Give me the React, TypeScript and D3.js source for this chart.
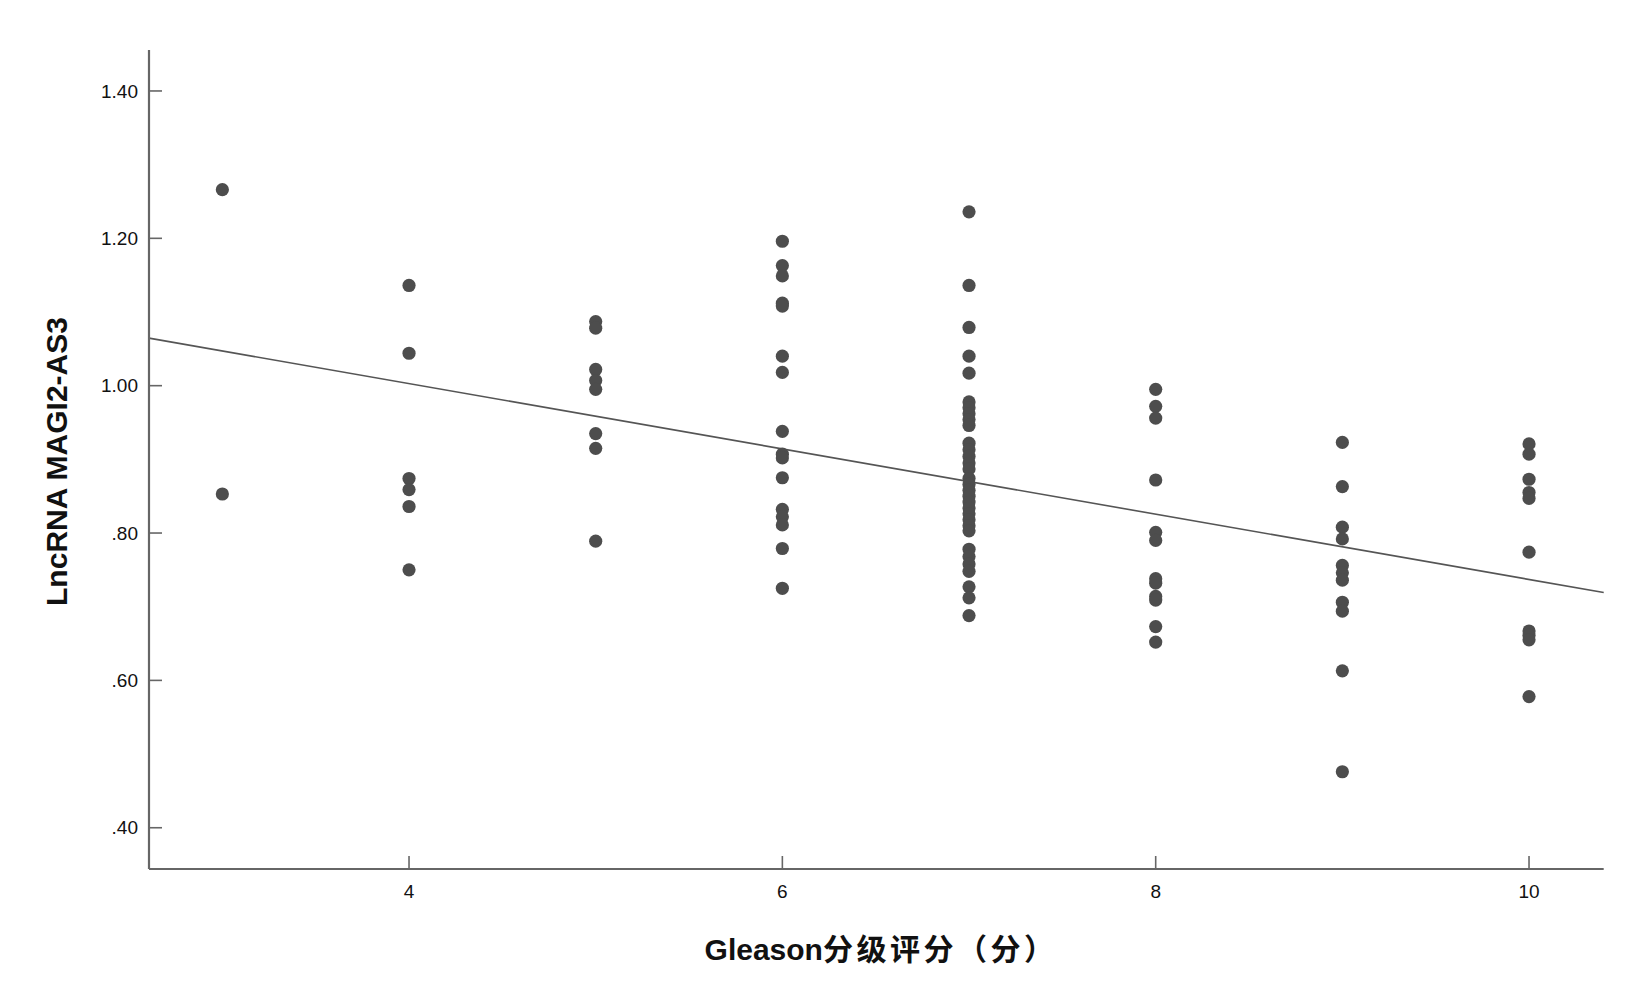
import React from "react";
import * as d3 from "d3";

// ---- data ----
const gleasonScores = [3, 4, 5, 6, 7, 8, 9, 10];
const g3 = [1.266, 0.853];
const g4 = [1.136, 1.044, 0.874, 0.859, 0.836, 0.75];
const g5 = [1.087, 1.078, 1.022, 1.007, 0.995, 0.935, 0.915, 0.789];
const g6 = [1.196, 1.163, 1.149, 1.112, 1.108, 1.04, 1.018, 0.938, 0.907, 0.902, 0.875, 0.832, 0.822, 0.811, 0.779, 0.725];
const g7 = [
  1.236, 1.136, 1.079, 1.04, 1.017, 0.978, 0.97, 0.962, 0.954, 0.946, 0.922, 0.913, 0.904, 0.895, 0.887, 0.874,
  0.866, 0.858, 0.85, 0.842, 0.834, 0.826, 0.818, 0.81, 0.803, 0.778, 0.768, 0.758, 0.748, 0.727, 0.712, 0.688,
];
const g8 = [0.995, 0.972, 0.956, 0.872, 0.801, 0.79, 0.738, 0.732, 0.714, 0.709, 0.673, 0.652];
const g9 = [0.923, 0.863, 0.808, 0.792, 0.756, 0.746, 0.736, 0.706, 0.694, 0.613, 0.476];
const g10 = [0.921, 0.907, 0.873, 0.855, 0.847, 0.774, 0.667, 0.661, 0.655, 0.578];
const seriesValues = [g3, g4, g5, g6, g7, g8, g9, g10];

const yTickValues = [0.4, 0.6, 0.8, 1.0, 1.2, 1.4];
const xTickValues = [4, 6, 8, 10];
const fitIntercept = 1.18;
const fitSlope = -0.0443;
const xDomain = [2.607, 10.4];
const yDomain = [0.344, 1.4556];

const xTitleLatin = "Gleason";
const xTitleCJK = "分级评分（分）";
const yTitle = "LncRNA MAGI2-AS3";

const W = 1634;
const H = 1002;
const left = 149;
const top = 50;
const bottom = 869;

const fontLatin = "'Liberation Sans', Arial, 'Noto Sans CJK SC', sans-serif";

export default function App() {
  // x(4) ≈ 409, x(10) ≈ 1529 in the reference
  const unit = (1529 - 409) / 6;
  const x = d3
    .scaleLinear()
    .domain(xDomain)
    .range([left, left + (xDomain[1] - xDomain[0]) * unit]);
  const right = x(xDomain[1]);
  const y = d3.scaleLinear().domain(yDomain).range([bottom, top]);

  const points = gleasonScores.flatMap((g, i) => seriesValues[i].map((v) => ({ g, v })));

  const fitLine = d3
    .line<number>()
    .x((d) => x(d))
    .y((d) => y(fitIntercept + fitSlope * d));

  const fmtY = (v: number) => d3.format(".2f")(v).replace(/^0\./, ".");

  const axisColor = "#666";
  const tickLen = 13;

  return (
    <svg
      width={W}
      height={H}
      style={{ position: "absolute", left: 0, top: 0, background: "#fff" }}
      fontFamily={fontLatin}
    >
      <rect x={0} y={0} width={W} height={H} fill="#fff" />
      {/* fit line */}
      <path d={fitLine(xDomain) || ""} fill="none" stroke="#555" strokeWidth={1.6} />
      {/* points */}
      {points.map((p, i) => (
        <circle key={i} cx={x(p.g)} cy={y(p.v)} r={6.6} fill="#4d4d4d" />
      ))}
      {/* axes */}
      <line x1={left} y1={top} x2={left} y2={bottom} stroke={axisColor} strokeWidth={2.2} />
      <line x1={left} y1={bottom} x2={right} y2={bottom} stroke={axisColor} strokeWidth={2.2} />
      {yTickValues.map((t) => (
        <g key={"y" + t}>
          <line x1={left} x2={left + tickLen} y1={y(t)} y2={y(t)} stroke={axisColor} strokeWidth={1.6} />
          <text x={left - 11} y={y(t)} dy="0.35em" textAnchor="end" fontSize={19} fill="#111">
            {fmtY(t)}
          </text>
        </g>
      ))}
      {xTickValues.map((t) => (
        <g key={"x" + t}>
          <line x1={x(t)} x2={x(t)} y1={bottom} y2={bottom - tickLen} stroke={axisColor} strokeWidth={1.6} />
          <text x={x(t)} y={898} textAnchor="middle" fontSize={19} fill="#111">
            {t}
          </text>
        </g>
      ))}
      {/* titles */}
      <text x={881} y={960} textAnchor="middle" fontSize={30} fontWeight="bold" fill="#111">
        <tspan>{xTitleLatin}</tspan>
        <tspan letterSpacing={3.5}>{xTitleCJK}</tspan>
      </text>
      <text
        transform={`translate(67, ${(top + bottom) / 2 + 2}) rotate(-90)`}
        textAnchor="middle"
        fontSize={30}
        fontWeight="bold"
        fill="#111"
      >
        {yTitle}
      </text>
    </svg>
  );
}
